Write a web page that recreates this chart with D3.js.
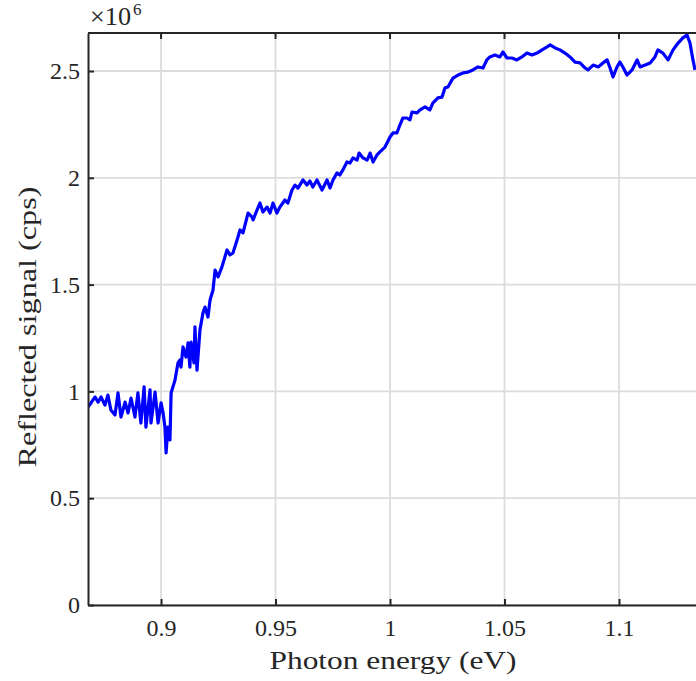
<!DOCTYPE html>
<html>
<head>
<meta charset="utf-8">
<script src="https://cdn.jsdelivr.net/npm/d3@7"></script>
<style>
html,body{margin:0;padding:0;background:#fff;overflow:hidden;}
svg{display:block;}
text{font-family:"Liberation Serif","Times New Roman",serif;fill:#262626;}
</style>
</head>
<body>
<svg id="chart" width="696" height="681"></svg>
<script>
// Photon energy (eV)
const energy = [
0.8681,0.8694,0.8712,0.8725,0.8738,0.8755,0.8768,0.8781,0.8799,0.8812,
0.8825,0.8843,0.8856,0.8869,0.8886,0.8899,0.8912,0.8926,0.8934,0.8952,
0.8956,0.8974,0.8987,0.9000,0.9009,0.9017,0.9022,0.9030,0.9039,0.9044,
0.9061,0.9074,0.9083,0.9087,0.9096,0.9109,0.9118,0.9126,0.9131,0.9144,
0.9148,0.9157,0.9170,0.9183,0.9192,0.9205,0.9214,0.9227,0.9236,0.9249,
0.9266,0.9288,0.9301,0.9314,0.9332,0.9345,0.9358,0.9380,0.9397,0.9402,
0.9419,0.9432,0.9445,0.9463,0.9476,0.9489,0.9506,0.9519,0.9541,0.9554,
0.9572,0.9585,0.9598,0.9620,0.9637,0.9650,0.9663,0.9681,0.9703,0.9725,
0.9738,0.9751,0.9768,0.9781,0.9794,0.9812,0.9825,0.9838,0.9856,0.9865,
0.9882,0.9900,0.9913,0.9926,0.9943,0.9956,0.9978,1.0000,1.0013,1.0030,
1.0043,1.0056,1.0074,1.0087,1.0096,1.0118,1.0131,1.0153,1.0174,1.0187,
1.0209,1.0227,1.0240,1.0253,1.0275,1.0297,1.0319,1.0341,1.0362,1.0384,
1.0406,1.0423,1.0436,1.0458,1.0480,1.0493,1.0511,1.0532,1.0554,1.0576,
1.0598,1.0620,1.0642,1.0664,1.0686,1.0699,1.0721,1.0742,1.0764,1.0786,
1.0808,1.0830,1.0852,1.0865,1.0887,1.0909,1.0930,1.0948,1.0961,1.0974,
1.0991,1.1004,1.1017,1.1035,1.1057,1.1079,1.1092,1.1114,1.1136,1.1157,
1.1170,1.1192,1.1214,1.1236,1.1258,1.1279,1.1297,1.1310,1.1323,1.1332
];
// Reflected signal (x10^6 cps)
const signal = [
0.927,0.946,0.974,0.950,0.974,0.936,0.983,0.913,0.890,0.993,
0.880,0.950,0.899,0.969,0.880,0.993,0.852,1.021,0.833,1.007,
0.852,0.997,0.852,0.946,0.899,0.833,0.712,0.833,0.773,0.993,
1.053,1.133,1.147,1.114,1.208,1.161,1.227,1.114,1.231,1.133,
1.302,1.100,1.288,1.367,1.395,1.348,1.428,1.475,1.568,1.536,
1.583,1.662,1.639,1.648,1.709,1.756,1.742,1.835,1.817,1.803,
1.849,1.882,1.840,1.863,1.835,1.882,1.835,1.863,1.896,1.882,
1.943,1.966,1.952,1.990,1.966,1.985,1.957,1.990,1.943,1.990,
1.952,1.990,2.023,2.013,2.037,2.074,2.069,2.093,2.083,2.116,
2.093,2.083,2.116,2.074,2.107,2.121,2.144,2.191,2.210,2.210,
2.247,2.280,2.280,2.271,2.308,2.304,2.318,2.332,2.318,2.350,
2.374,2.378,2.421,2.425,2.467,2.481,2.491,2.495,2.505,2.519,
2.514,2.552,2.566,2.575,2.566,2.589,2.561,2.561,2.552,2.566,
2.584,2.575,2.584,2.599,2.613,2.622,2.608,2.599,2.584,2.566,
2.542,2.538,2.514,2.505,2.528,2.519,2.538,2.552,2.514,2.472,
2.519,2.542,2.519,2.481,2.505,2.552,2.519,2.528,2.538,2.566,
2.599,2.584,2.552,2.599,2.631,2.655,2.669,2.631,2.552,2.505
];
const xTicks = [0.9, 0.95, 1, 1.05, 1.1];
const xTickLabels = ["0.9", "0.95", "1", "1.05", "1.1"];
const yTicks = [0, 0.5, 1, 1.5, 2, 2.5];
const yTickLabels = ["0", "0.5", "1", "1.5", "2", "2.5"];
const xDomain = [0.8681, 1.1345];
const yDomain = [0, 2.678];

const svg = d3.select("#chart");
const L = 88, T = 33, R = 698, B = 605;
const x = d3.scaleLinear().domain(xDomain).range([L, R]);
const y = d3.scaleLinear().domain(yDomain).range([B, T]);
const data = energy.map((e, i) => ({e, s: signal[i]}));

// grid
const grid = svg.append("g");
grid.selectAll("line.gx").data(xTicks).join("line")
  .attr("x1", d => x(d)).attr("x2", d => x(d)).attr("y1", T).attr("y2", B)
  .attr("stroke", "#dcdcdc").attr("stroke-width", 1.8);
grid.selectAll("line.gy").data(yTicks).join("line")
  .attr("x1", L).attr("x2", R).attr("y1", d => y(d)).attr("y2", d => y(d))
  .attr("stroke", "#dcdcdc").attr("stroke-width", 1.8);

// data line
svg.append("clipPath").attr("id", "clip").append("rect")
  .attr("x", L).attr("y", T).attr("width", R - L).attr("height", B - T);
svg.append("path").datum(data)
  .attr("clip-path", "url(#clip)")
  .attr("fill", "none").attr("stroke", "#0000ff").attr("stroke-width", 3.2)
  .attr("stroke-linejoin", "round")
  .attr("d", d3.line().x(d => x(d.e)).y(d => y(d.s)));

// axes
const xAxisG = svg.append("g").attr("transform", `translate(0,${B})`)
  .call(d3.axisBottom(x).tickValues(xTicks).tickFormat((d, i) => xTickLabels[i]).tickSizeInner(-6).tickSizeOuter(0).tickPadding(14));
const yAxisG = svg.append("g").attr("transform", `translate(${L},0)`)
  .call(d3.axisLeft(y).tickValues(yTicks).tickFormat((d, i) => yTickLabels[i]).tickSizeInner(-6).tickSizeOuter(0).tickPadding(8));
[xAxisG, yAxisG].forEach(g => {
  g.select(".domain").attr("stroke", "#262626").attr("stroke-width", 2);
  g.selectAll(".tick line").attr("stroke", "#262626").attr("stroke-width", 2);
  g.selectAll(".tick text").attr("font-family", "Liberation Serif, serif")
    .attr("font-size", 24).attr("fill", "#262626");
});
// top & right box
svg.append("line").attr("x1", L).attr("x2", R).attr("y1", T).attr("y2", T)
  .attr("stroke", "#262626").attr("stroke-width", 2);
svg.append("line").attr("x1", R).attr("x2", R).attr("y1", T).attr("y2", B)
  .attr("stroke", "#262626").attr("stroke-width", 2);
// top ticks
svg.selectAll("line.tt").data(xTicks).join("line")
  .attr("x1", d => x(d)).attr("x2", d => x(d)).attr("y1", T).attr("y2", T + 6)
  .attr("stroke", "#262626").attr("stroke-width", 2);

// exponent
svg.append("text").attr("x", 90).attr("y", 25).attr("font-size", 25)
  .attr("textLength", 41).attr("lengthAdjust", "spacingAndGlyphs").text("×10");
svg.append("text").attr("x", 133).attr("y", 15).attr("font-size", 17).text("6");

// axis labels
svg.append("text").attr("x", 393).attr("y", 669).attr("text-anchor", "middle")
  .attr("font-size", 26).attr("textLength", 247).attr("lengthAdjust", "spacingAndGlyphs")
  .text("Photon energy (eV)");
svg.append("text").attr("transform", "translate(36,327) rotate(-90)")
  .attr("text-anchor", "middle").attr("font-size", 26)
  .attr("textLength", 281).attr("lengthAdjust", "spacingAndGlyphs")
  .text("Reflected signal (cps)");
</script>
</body>
</html>
